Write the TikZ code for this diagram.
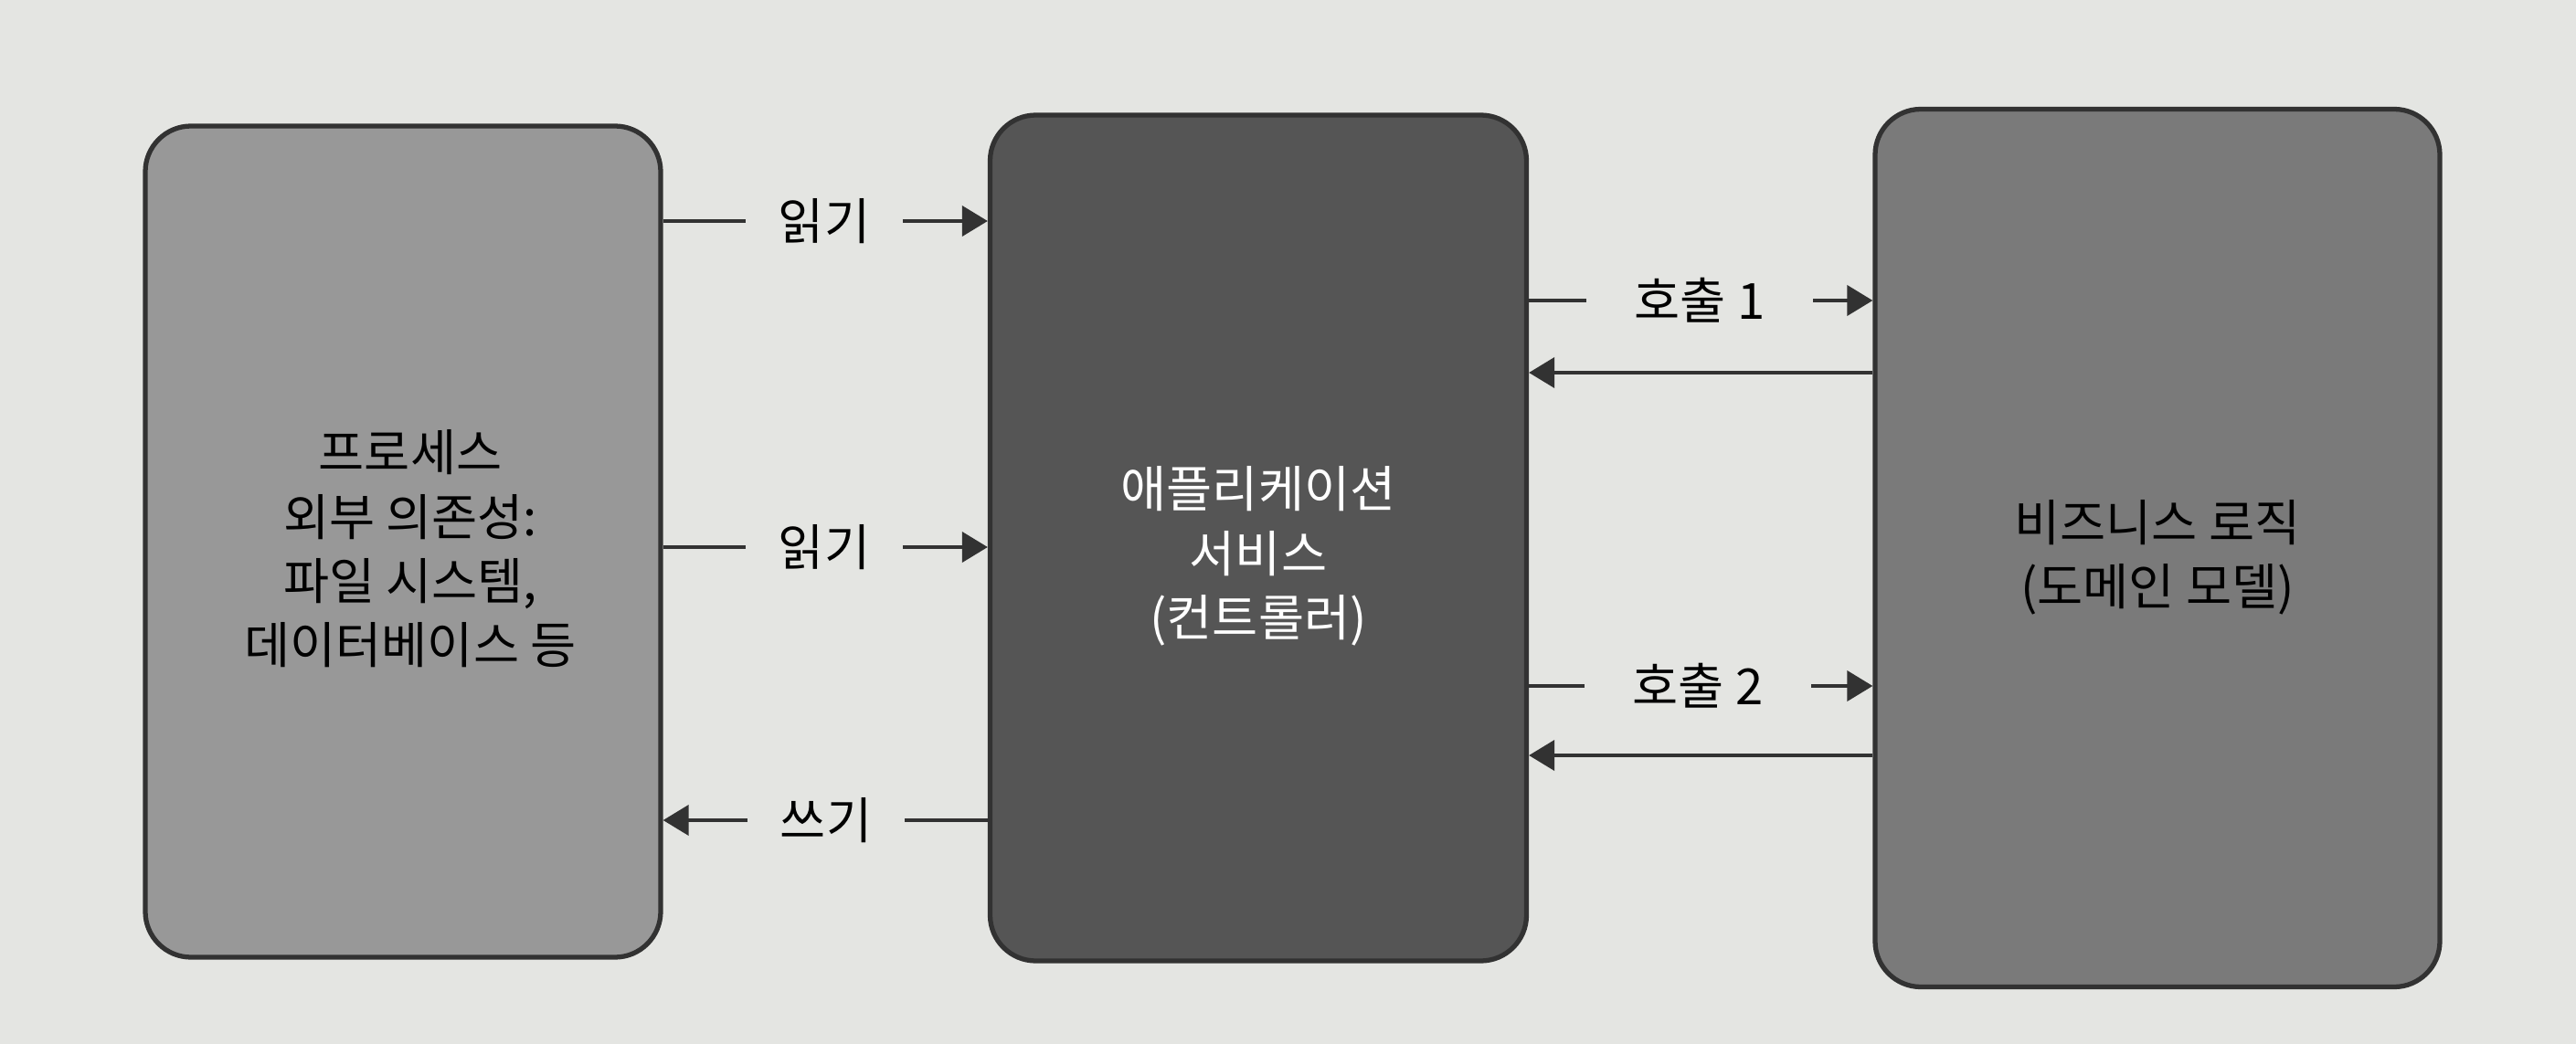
\documentclass[tikz,border=0pt]{standalone}
\usepackage{xcolor}
\usepackage{fontspec}
\newfontfamily\kr{Noto Sans CJK KR}
\usepackage{tikz}
\usetikzlibrary{positioning,calc,arrows.meta}

\definecolor{paper}{RGB}{228,229,226}
\definecolor{edge}{RGB}{50,50,50}
\definecolor{procfill}{RGB}{152,152,152}
\definecolor{appfill}{RGB}{85,85,85}
\definecolor{domfill}{RGB}{122,122,122}

\tikzset{
    box/.style={draw=edge, line width=1.5pt, rounded corners=0.5cm},
    boxtext/.style={align=center, font=\kr\fontsize{15.5}{20}\selectfont},
    lbl/.style={inner xsep=0.35cm, inner ysep=0pt, font=\kr\fontsize{15.5}{20}\selectfont},
    calllbl/.style={lbl, inner xsep=0.52cm},
    wire/.style={draw=edge, line width=1.1pt},
    arr/.style={wire, -{Triangle[length=0.28cm,width=0.33cm]}}
}

\begin{document}
\begin{tikzpicture}
    % Page
    \fill[paper] (0,0) rectangle (28.19,-11.43);
    \useasboundingbox (0,0) rectangle (28.19,-11.43);

    % Boxes
    \node[box, fill=procfill, minimum width=5.64cm, minimum height=9.1cm] (proc) at (4.41,-5.93) {};
    \node[box, fill=appfill, minimum width=5.87cm, minimum height=9.26cm] (app) at (13.77,-5.89) {};
    \node[box, fill=domfill, minimum width=6.18cm, minimum height=9.61cm] (dom) at (23.61,-6.0) {};

    \node[boxtext] (proctext) at ([xshift=0.08cm,yshift=-0.08cm]proc.center)
        {프로세스\\외부 의존성:\\파일 시스템,\\데이터베이스 등};
    \node[boxtext, text=white] (apptext) at ([yshift=-0.2cm]app.center)
        {애플리케이션\\서비스\\(컨트롤러)};
    \node[boxtext] (domtext) at ([yshift=-0.1cm]dom.center)
        {비즈니스 로직\\(도메인 모델)};

    % Labels
    \node[lbl] (read1) at (9.02,-2.42) {읽기};
    \node[lbl] (read2) at (9.02,-5.99) {읽기};
    \node[lbl] (write) at (9.04,-8.98) {쓰기};
    \node[calllbl] (call1) at (18.6,-3.29) {호출 1};
    \node[calllbl] (call2) at (18.58,-7.51) {호출 2};
    \coordinate (ret1) at (0,-4.08);
    \coordinate (ret2) at (0,-8.27);

    % Read / write
    \draw[wire] (proc.east |- read1) -- (read1.west);
    \draw[arr] (read1.east) -- (app.west |- read1);
    \draw[wire] (proc.east |- read2) -- (read2.west);
    \draw[arr] (read2.east) -- (app.west |- read2);
    \draw[wire] (app.west |- write) -- (write.east);
    \draw[arr] (write.west) -- (proc.east |- write);

    % Calls
    \draw[wire] (app.east |- call1) -- (call1.west);
    \draw[arr] (call1.east) -- (dom.west |- call1);
    \draw[arr] (dom.west |- ret1) -- (app.east |- ret1);
    \draw[wire] (app.east |- call2) -- (call2.west);
    \draw[arr] (call2.east) -- (dom.west |- call2);
    \draw[arr] (dom.west |- ret2) -- (app.east |- ret2);
\end{tikzpicture}
\end{document}
